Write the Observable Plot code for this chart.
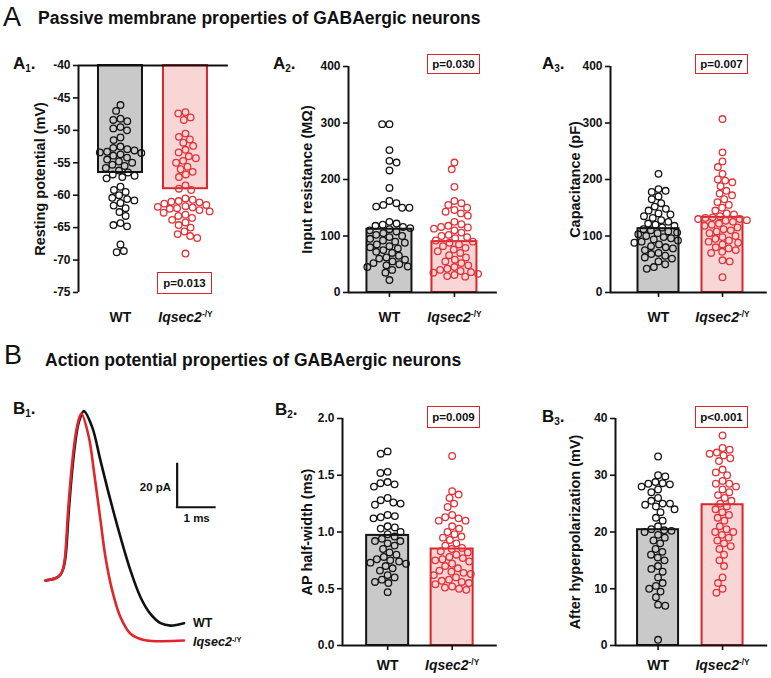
<!DOCTYPE html>
<html><head><meta charset="utf-8">
<script src="https://cdn.jsdelivr.net/npm/d3@7"></script>
<script src="https://cdn.jsdelivr.net/npm/@observablehq/plot@0.6"></script>
<style>
html,body{margin:0;padding:0;background:#fff;}
#root{position:relative;width:771px;height:678px;overflow:hidden;font-family:"Liberation Sans",Arial,Helvetica,sans-serif;color:#111;}
#root sub{font-size:10px;line-height:0;vertical-align:-3px;}
.pbox{position:absolute;box-sizing:border-box;border:1.5px solid #d9262c;display:flex;align-items:center;justify-content:center;font-weight:bold;font-size:11.5px;background:#fff;}
</style></head>
<body><div id="root"></div>
<script>
// ---------------- data ----------------
const groups = ["WT", "Iqsec2-/Y"];

const restWT = [-46.1,-47.0,-48.2,-48.4,-48.6,-49.5,-49.7,-50.0,-51.1,-51.5,-52.5,-52.7,-52.9,-53.1,-53.3,-53.4,-53.5,-53.7,-53.9,-54.2,-54.5,-54.8,-55.0,-55.3,-55.5,-55.8,-56.2,-56.5,-56.8,-57.0,-57.2,-57.4,-58.7,-59.2,-59.5,-60.0,-60.4,-60.6,-60.8,-61.2,-61.6,-62.0,-62.6,-63.2,-64.3,-64.6,-64.8,-67.6,-68.6,-68.8];
const restKO = [-47.2,-47.4,-48.0,-48.4,-50.5,-51.0,-51.4,-51.9,-52.4,-53.0,-53.4,-54.0,-54.3,-54.7,-55.0,-55.6,-56.0,-56.4,-56.8,-57.2,-58.5,-59.0,-59.2,-60.5,-60.7,-60.9,-61.0,-61.1,-61.3,-61.5,-61.7,-61.8,-61.9,-62.0,-62.1,-62.3,-62.5,-62.7,-63.0,-63.2,-63.5,-63.8,-64.2,-64.6,-65.0,-65.6,-66.0,-66.3,-66.6,-69.0];
const restMean = [-56.5, -59.0];

const resWT = [298,298,252,233,230,216,185,162,158,155,152,150,150,125,122,120,118,116,114,112,110,108,105,102,100,98,95,92,90,88,85,82,80,78,75,72,70,65,62,60,58,55,52,50,48,46,45,40,35,22];
const resKO = [230,218,187,162,158,155,150,146,143,140,136,125,121,118,116,115,113,110,106,102,100,98,96,92,90,88,85,82,79,76,73,70,66,62,58,55,52,48,45,42,40,38,36,35,33,31,29,28];
const resMean = [112, 90];

const capWT = [210,183,180,178,170,165,158,152,148,145,140,138,135,132,128,125,122,120,118,115,112,110,108,106,105,103,100,98,96,94,92,90,88,85,82,80,78,75,70,68,65,62,60,55,50,45,42];
const capKO = [307,248,232,222,210,200,198,195,188,180,175,172,165,160,155,150,145,140,138,135,133,132,130,130,128,127,125,122,120,118,115,112,110,108,105,100,98,95,92,90,88,85,80,78,75,72,70,57,55,27];
const capMean = [113, 133];

const hwWT = [1.71,1.69,1.53,1.52,1.44,1.43,1.42,1.40,1.30,1.28,1.26,1.25,1.24,1.15,1.14,1.13,1.12,1.05,1.04,1.03,1.00,0.98,0.96,0.94,0.92,0.92,0.90,0.88,0.85,0.82,0.80,0.78,0.76,0.75,0.74,0.73,0.72,0.70,0.68,0.66,0.62,0.60,0.58,0.56,0.55,0.47];
const hwKO = [1.67,1.36,1.33,1.30,1.25,1.22,1.15,1.13,1.12,1.10,1.10,1.05,1.03,1.00,0.98,0.96,0.95,0.93,0.90,0.88,0.86,0.85,0.83,0.82,0.80,0.78,0.77,0.76,0.75,0.74,0.72,0.70,0.68,0.66,0.65,0.64,0.63,0.62,0.60,0.58,0.57,0.56,0.55,0.54,0.52,0.51,0.50,0.49];
const hwMean = [0.97, 0.85];

const ahpWT = [33.3,30.0,29.8,28.8,28.6,28.5,28.4,28.0,27.5,27.0,26.0,25.5,25.0,25.0,24.8,24.5,24.0,23.5,22.5,22.0,21.0,20.5,20.3,20.2,20.0,19.5,19.0,18.5,18.0,17.0,16.5,16.0,15.5,15.0,14.0,13.5,13.0,12.0,11.0,10.5,10.0,9.5,8.5,7.2,7.0,1.0];
const ahpKO = [37.0,34.8,34.5,34.0,33.8,33.5,33.0,32.5,31.0,30.5,30.0,29.0,28.5,28.5,28.0,27.5,27.0,26.5,26.0,25.5,25.0,24.5,24.0,23.5,23.0,22.5,22.0,21.0,20.5,20.0,20.0,19.5,19.0,18.5,18.0,17.5,17.0,16.0,15.0,14.0,12.0,11.0,10.0,9.3];
const ahpMean = [20.4, 24.8];

const ticksA1 = [-40,-45,-50,-55,-60,-65,-70,-75];
const ticksA23 = [0,100,200,300,400];
const ticksB2 = [0,0.5,1,1.5,2];
const ticksB3 = [0,10,20,30,40];
const pLabels = ["p=0.013","p=0.030","p=0.007","p=0.009","p<0.001"];
const yLabels = ["Resting potential (mV)","Input resistance (M\u03A9)","Capacitance (pF)","AP half-width (ms)","After hyperpolarization (mV)"];

// averaged AP traces (time in ms, amplitude in scale-bar units)
const apTimeWT = [0,0.256,0.385,0.453,0.513,0.598,0.684,0.77,0.855,0.983,1.197,1.41,1.667,1.923,2.18,2.436,2.69,2.95,3.205,3.55];
const apVoltWT = [0,1.0,2.7,5.3,10.6,31.8,50,63.6,72,77,69.7,54.5,36.4,19.7,4.5,-7.6,-15.2,-19.4,-20.5,-19.4];
const apTimeKO = [0,0.256,0.385,0.45,0.50,0.58,0.665,0.75,0.835,0.92,1.111,1.239,1.41,1.538,1.71,1.923,2.18,2.52,3.55];
const apVoltKO = [0,1.0,2.7,5.3,10.6,31.8,50,63.6,72,75.9,65.2,50,27.3,10.6,-4.5,-16.7,-24.2,-27.0,-27.3];
const scaleBar = {t: 3.376, v: 33.3, dt: 1, dv: 20, tLabel: "1 ms", vLabel: "20 pA"};

// ---------------- drawing ----------------
const root = document.getElementById("root");
const FONT = '"Liberation Sans", Arial, Helvetica, sans-serif';
const C = {wtFill:"#c9c9c9", wtStroke:"#141414", koFill:"#f8d6d6", koStroke:"#d9262c", koDot:"#e0333a"};
const SVGNS = "http://www.w3.org/2000/svg";
const baseStyle = {fontFamily: FONT, fontWeight: "bold", fontSize: "12px", background: "none", overflow: "visible", color: "#111"};

function swarm(values, toPx, d) {
  const order = values.map((v, i) => i).sort((a, b) => toPx(values[b]) - toPx(values[a]));
  const placed = [], out = new Array(values.length);
  order.forEach((i, k) => {
    const y = toPx(values[i]);
    const cands = [0];
    for (const p of placed) {
      const dy = Math.abs(p.y - y);
      if (dy < d) { const dx = Math.sqrt(d * d - dy * dy); cands.push(p.x + dx, p.x - dx); }
    }
    const sgn = k % 2 ? 1 : -1;
    cands.sort((a, b) => (Math.abs(a) - Math.abs(b)) || (sgn * (a - b)));
    let best = 0;
    for (const c of cands) {
      if (placed.every(p => (p.x - c) ** 2 + (p.y - y) ** 2 >= d * d - 1e-6)) { best = c; break; }
    }
    placed.push({x: best, y});
    out[i] = best;
  });
  return out;
}

function italicize(svg) {
  svg.querySelectorAll("text").forEach(t => {
    if (t.textContent === groups[1]) {
      while (t.firstChild) t.removeChild(t.firstChild);
      const a = document.createElementNS(SVGNS, "tspan");
      a.setAttribute("font-style", "italic"); a.textContent = "Iqsec2";
      const b = document.createElementNS(SVGNS, "tspan");
      b.setAttribute("font-size", "0.6em"); b.setAttribute("dy", "-0.6em"); b.textContent = "-/Y";
      t.append(a, b);
    }
  });
}

function place(el, left, top) {
  el.style.position = "absolute"; el.style.left = left + "px"; el.style.top = top + "px";
  root.appendChild(el);
}

function barPanel(c) {
  const marginLeft = c.axisX - c.left, marginTop = c.yTop - c.top;
  const marginBottom = c.top + c.height - c.yBot, marginRight = 4;
  const plotH = c.yBot - c.yTop;
  const [y0, y1] = c.ydomain;
  const toPx = v => (v - y0) / (y1 - y0) * plotH;
  const dots = [[], []];
  [c.wt, c.ko].forEach((vals, g) => {
    const off = swarm(vals, toPx, 7.3);
    vals.forEach((v, i) => dots[g].push({v, x: g + off[i] / c.step}));
  });
  const hw = c.barW / 2 / c.step;
  const bars = c.means.map((m, g) => ({x1: g - hw, x2: g + hw, y1: c.base, y2: m}));
  const plot = Plot.plot({
    width: marginLeft + (c.xmax - c.xmin) * c.step + marginRight,
    height: c.height, marginLeft, marginTop, marginBottom, marginRight,
    x: {domain: [c.xmin, c.xmax], axis: null},
    y: {domain: c.ydomain, axis: null},
    style: baseStyle,
    marks: [
      Plot.rectY([bars[0]], {x1: "x1", x2: "x2", y1: "y1", y2: "y2", fill: C.wtFill, stroke: C.wtStroke, strokeWidth: 2}),
      Plot.rectY([bars[1]], {x1: "x1", x2: "x2", y1: "y1", y2: "y2", fill: C.koFill, stroke: C.koStroke, strokeWidth: 2}),
      Plot.dot(dots[0], {x: "x", y: "v", r: 3.3, fill: "none", stroke: C.wtStroke, strokeWidth: 1.3}),
      Plot.dot(dots[1], {x: "x", y: "v", r: 3.3, fill: "none", stroke: C.koDot, strokeWidth: 1.3}),
      Plot.ruleY([c.base], {stroke: "#111", strokeWidth: 2}),
      Plot.ruleX([c.xmin], {stroke: "#111", strokeWidth: 2}),
      Plot.axisY({ticks: c.ticks, tickFormat: c.fmt, tickSize: 5, tickPadding: 3, strokeWidth: 1.6, fontSize: 12, label: null}),
      Plot.axisX({anchor: "bottom", ticks: [0, 1], tickFormat: i => groups[i], tickSize: c.xTickSize, tickPadding: c.xTickPad, strokeWidth: 1.6, fontSize: 14, label: null}),
      Plot.text([c.ylabel], {text: d => d, frameAnchor: "left", textAnchor: "middle", lineAnchor: "middle", rotate: -90, dx: c.labelDx, fontSize: 14.5, fontWeight: "bold"})
    ]
  });
  italicize(plot);
  place(plot, c.left, c.top);
}

barPanel({left: 0, top: 50, height: 290, axisX: 78, yTop: 65, yBot: 292, step: 65, xmin: -0.646, xmax: 1.66, barW: 44,
  ydomain: [-75, -40], base: -40, ticks: ticksA1, fmt: d => String(d), ylabel: yLabels[0], labelDx: -38,
  wt: restWT, ko: restKO, means: restMean, xTickSize: 0, xTickPad: 20});
barPanel({left: 268, top: 50, height: 290, axisX: 348, yTop: 66, yBot: 292, step: 65, xmin: -0.63, xmax: 1.66, barW: 45,
  ydomain: [0, 400], base: 0, ticks: ticksA23, fmt: d => String(d), ylabel: yLabels[1], labelDx: -41,
  wt: resWT, ko: resKO, means: resMean, xTickSize: 5, xTickPad: 15});
barPanel({left: 530, top: 50, height: 290, axisX: 610, yTop: 66, yBot: 292, step: 64, xmin: -0.75, xmax: 1.7, barW: 41,
  ydomain: [0, 400], base: 0, ticks: ticksA23, fmt: d => String(d), ylabel: yLabels[2], labelDx: -35,
  wt: capWT, ko: capKO, means: capMean, xTickSize: 5, xTickPad: 15});
barPanel({left: 262, top: 390, height: 288, axisX: 342, yTop: 418, yBot: 645, step: 64.5, xmin: -0.70, xmax: 1.7, barW: 42,
  ydomain: [0, 2], base: 0, ticks: ticksB2, fmt: d => d.toFixed(1), ylabel: yLabels[3], labelDx: -35,
  wt: hwWT, ko: hwKO, means: hwMean, xTickSize: 5, xTickPad: 10});
barPanel({left: 530, top: 390, height: 288, axisX: 615, yTop: 418, yBot: 645, step: 64.5, xmin: -0.66, xmax: 1.7, barW: 41,
  ydomain: [0, 40], base: 0, ticks: ticksB3, fmt: d => String(d), ylabel: yLabels[4], labelDx: -40,
  wt: ahpWT, ko: ahpKO, means: ahpMean, xTickSize: 5, xTickPad: 10});

// B1 : averaged action potential traces
const wtTrace = apTimeWT.map((t, i) => ({t, v: apVoltWT[i]}));
const koTrace = apTimeKO.map((t, i) => ({t, v: apVoltKO[i]}));
const traceLabels = [
  {t: apTimeWT[apTimeWT.length - 1], v: apVoltWT[apVoltWT.length - 1], label: groups[0]},
  {t: apTimeKO[apTimeKO.length - 1], v: apVoltKO[apVoltKO.length - 1] - 0.8, label: groups[1]}
];
const ap = Plot.plot({
  width: 260, height: 280, marginLeft: 45, marginRight: 20, marginTop: 13, marginBottom: 14,
  x: {domain: [0, 5], axis: null}, y: {domain: [-30, 85], axis: null},
  style: baseStyle,
  marks: [
    Plot.line(wtTrace, {x: "t", y: "v", stroke: "#111", strokeWidth: 2.6, curve: "catmull-rom"}),
    Plot.line(koTrace, {x: "t", y: "v", stroke: "#e0262b", strokeWidth: 2.6, curve: "catmull-rom"}),
    Plot.ruleX([scaleBar], {x: "t", y1: "v", y2: d => d.v + d.dv, stroke: "#111", strokeWidth: 2.2}),
    Plot.ruleY([scaleBar], {y: "v", x1: d => d.t - 0.02, x2: d => d.t + d.dt, stroke: "#111", strokeWidth: 2.2}),
    Plot.text([scaleBar], {x: "t", y: d => d.v + d.dv / 2, text: "vLabel", textAnchor: "end", dx: -6, dy: 2, fontSize: 11.5, fontWeight: "bold"}),
    Plot.text([scaleBar], {x: d => d.t + d.dt / 2, y: "v", text: "tLabel", dy: 11, fontSize: 11.5, fontWeight: "bold"}),
    Plot.text(traceLabels, {x: "t", y: "v", text: "label", textAnchor: "start", dx: 9, fontSize: 12.5, fontWeight: "bold"})
  ]
});
italicize(ap);
place(ap, 0, 380);

// ---------------- annotations ----------------
function textDiv(html, x, baseline, fs, weight) {
  const d = document.createElement("div");
  d.style.cssText = `font-size:${fs}px;line-height:1;font-weight:${weight};white-space:nowrap;`;
  d.innerHTML = html;
  place(d, x, baseline - 0.86 * fs);
}
textDiv("A", 3, 27, 27, "normal");
textDiv("Passive membrane properties of GABAergic neurons", 38, 25, 17.5, "bold");
textDiv("B", 4, 365, 27, "normal");
textDiv("Action potential properties of GABAergic neurons", 45, 367, 17.5, "bold");
textDiv("A<sub>1</sub>.", 13, 70, 17, "bold");
textDiv("A<sub>2</sub>.", 273, 70, 17, "bold");
textDiv("A<sub>3</sub>.", 542, 70, 17, "bold");
textDiv("B<sub>1</sub>.", 13, 415, 17, "bold");
textDiv("B<sub>2</sub>.", 275, 416, 17, "bold");
textDiv("B<sub>3</sub>.", 542, 423, 17, "bold");

function pBox(text, x, y, w, h) {
  const d = document.createElement("div");
  d.className = "pbox"; d.style.width = w + "px"; d.style.height = h + "px";
  d.textContent = text;
  place(d, x, y);
}
pBox(pLabels[0], 157, 272, 55, 22);
pBox(pLabels[1], 427, 54, 53, 20);
pBox(pLabels[2], 695, 54, 53, 20);
pBox(pLabels[3], 427, 406, 53, 22);
pBox(pLabels[4], 695, 406, 53, 22);
</script></body></html>
